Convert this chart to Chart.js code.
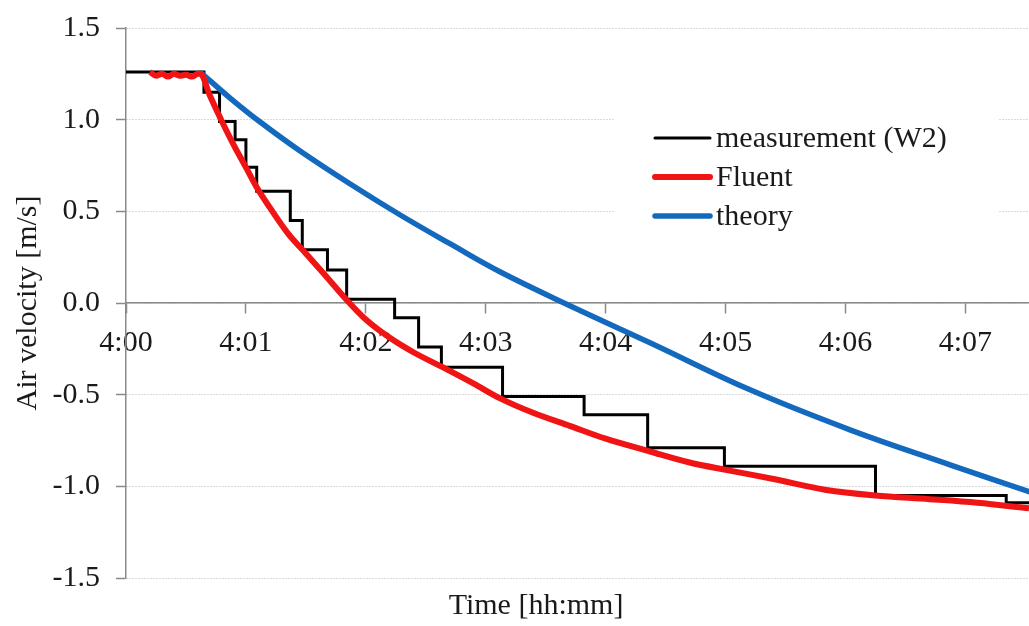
<!DOCTYPE html>
<html>
<head>
<meta charset="utf-8">
<script src="https://cdn.jsdelivr.net/npm/chart.js@4.4.1/dist/chart.umd.min.js"></script>
<style>
  html, body { margin: 0; padding: 0; background: #fff; }
  #wrap { width: 1029px; height: 626px; position: relative; }
</style>
</head>
<body>
<div id="wrap"><canvas id="chart"></canvas></div>
<script>
// minutes after 4:00
const xTicks = [0, 1, 2, 3, 4, 5, 6, 7];
const xTickLabels = ['4:00', '4:01', '4:02', '4:03', '4:04', '4:05', '4:06', '4:07'];
const yTicks = [-1.5, -1.0, -0.5, 0.0, 0.5, 1.0, 1.5];

const seriesNames = ['measurement (W2)', 'Fluent', 'theory'];

// measurement (W2): step series, each point = time where the new level starts
const measTime = [0, 0.65, 0.78, 0.91, 1.00, 1.09, 1.37, 1.47, 1.68, 1.84, 2.24, 2.44, 2.63, 3.14, 3.82, 4.35, 4.99, 6.25, 7.34, 7.53];
const measVel  = [1.26, 1.15, 0.99, 0.89, 0.74, 0.61, 0.45, 0.29, 0.18, 0.02, -0.08, -0.24, -0.35, -0.51, -0.61, -0.79, -0.89, -1.05, -1.09, -1.09];

// Fluent
const fluentTime = [0.20, 0.25, 0.30, 0.35, 0.40, 0.45, 0.50, 0.55, 0.60, 0.62, 0.70, 0.80, 0.90, 1.00, 1.10, 1.20, 1.35, 1.50, 1.65, 1.85, 2.00, 2.20, 2.40, 2.64, 2.90, 3.12, 3.40, 3.70, 4.00, 4.37, 4.70, 5.00, 5.40, 5.84, 6.25, 6.70, 7.10, 7.53];
const fluentVel  = [1.26, 1.24, 1.25, 1.235, 1.25, 1.24, 1.245, 1.235, 1.25, 1.25, 1.13, 0.99, 0.86, 0.74, 0.62, 0.52, 0.38, 0.27, 0.16, 0.01, -0.09, -0.19, -0.27, -0.35, -0.44, -0.52, -0.60, -0.67, -0.74, -0.81, -0.87, -0.91, -0.96, -1.02, -1.05, -1.07, -1.09, -1.12];

// theory
const theoryTime = [0.618, 0.868, 1.119, 1.452, 1.870, 2.287, 2.705, 3.122, 3.706, 4.374, 5.209, 6.043, 6.878, 7.538];
const theoryVel  = [1.26, 1.118, 0.987, 0.829, 0.649, 0.48, 0.322, 0.169, -0.016, -0.218, -0.475, -0.693, -0.884, -1.031];

const colors = ['#000000', '#f01414', '#1369bd'];
const widths = [3, 6, 5.5];

const FONT = '"Liberation Serif", "Times New Roman", serif';
const TEXT = '#1a1a1a';
const AXIS = '#8a8a8a';

function pts(xs, ys) {
  return xs.map((x, i) => ({ x: x, y: ys[i] }));
}

// Legend box and x title, drawn over the plot like the original
const overlay = {
  id: 'overlay',
  afterDraw(chart) {
    const ctx = chart.ctx;
    ctx.save();
    ctx.fillStyle = '#fff';
    ctx.fillRect(615, 100, 384, 140);
    const rows = [138, 177, 216];
    ctx.font = '30px ' + FONT;
    ctx.textBaseline = 'middle';
    ctx.textAlign = 'left';
    seriesNames.forEach((name, i) => {
      ctx.strokeStyle = colors[i];
      ctx.lineWidth = widths[i];
      ctx.lineCap = 'round';
      ctx.beginPath();
      ctx.moveTo(655, rows[i]);
      ctx.lineTo(710, rows[i]);
      ctx.stroke();
      ctx.fillStyle = TEXT;
      ctx.fillText(name, 716, rows[i] + 1);
    });
    ctx.textAlign = 'center';
    ctx.textBaseline = 'middle';
    ctx.fillText('Time [hh:mm]', 536, 606);
    ctx.restore();
  }
};

new Chart(document.getElementById('chart'), {
  type: 'line',
  data: {
    datasets: [
      {
        label: seriesNames[0],
        data: pts(measTime, measVel),
        borderColor: colors[0],
        borderWidth: widths[0],
        stepped: 'before',
        pointRadius: 0,
        fill: false,
        order: 3
      },
      {
        label: seriesNames[1],
        data: pts(fluentTime, fluentVel),
        borderColor: colors[1],
        borderWidth: widths[1],
        cubicInterpolationMode: 'monotone',
        pointRadius: 0,
        fill: false,
        order: 1
      },
      {
        label: seriesNames[2],
        data: pts(theoryTime, theoryVel),
        borderColor: colors[2],
        borderWidth: widths[2],
        tension: 0.4,
        pointRadius: 0,
        fill: false,
        order: 2
      }
    ]
  },
  options: {
    responsive: true,
    maintainAspectRatio: false,
    animation: false,
    layout: { padding: { top: 28, right: 0, bottom: 48, left: 0 } },
    plugins: {
      legend: { display: false },
      tooltip: { enabled: false }
    },
    scales: {
      x: {
        type: 'linear',
        position: { y: 0 },
        min: 0,
        max: 7.53,
        afterBuildTicks: (s) => { s.ticks = xTicks.map(v => ({ value: v })); },
        ticks: {
          includeBounds: false,
          callback: (v) => xTickLabels[xTicks.indexOf(v)],
          color: TEXT,
          font: { family: FONT, size: 30 },
          padding: 12,
          maxRotation: 0,
          autoSkip: false
        },
        grid: {
          drawOnChartArea: false,
          drawTicks: true,
          tickLength: 10,
          tickColor: AXIS,
          tickWidth: 1.5
        },
        border: { color: AXIS, width: 1.5 }
      },
      y: {
        type: 'linear',
        min: -1.5,
        max: 1.5,
        afterBuildTicks: (s) => { s.ticks = yTicks.map(v => ({ value: v })); },
        afterFit: (s) => { s.width = 126; },
        ticks: {
          callback: (v) => v.toFixed(1),
          color: TEXT,
          font: { family: FONT, size: 30, lineHeight: 0.8 },
          padding: 16
        },
        grid: {
          color: '#b4b4b4',
          lineWidth: 1,
          drawTicks: true,
          tickLength: 10,
          tickColor: AXIS,
          tickWidth: 1.5,
          tickBorderDash: []
        },
        border: { color: AXIS, width: 1.5, dash: [1, 2] },
        title: {
          display: true,
          text: 'Air velocity [m/s]',
          color: TEXT,
          font: { family: FONT, size: 30 },
          padding: { top: 10, bottom: 0 }
        }
      }
    }
  },
  plugins: [overlay]
});
</script>
</body>
</html>
